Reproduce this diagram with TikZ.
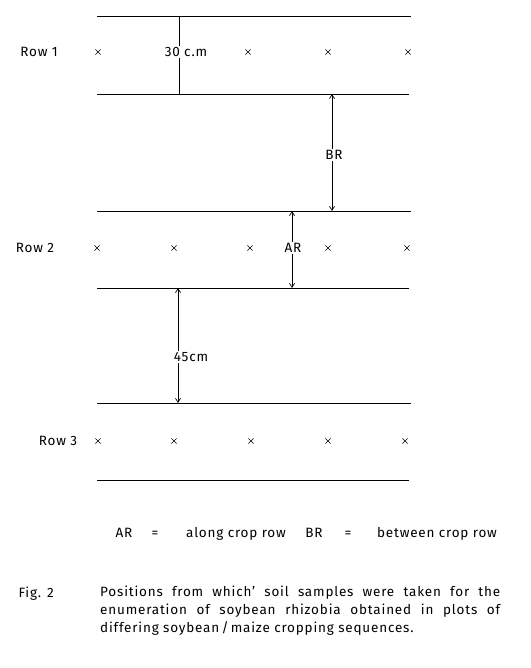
\documentclass[tikz,border=0pt]{standalone}
\usepackage{fontspec}
\setmainfont[LetterSpace=6]{Fira Sans}
\usetikzlibrary{arrows.meta, shapes.misc}

\begin{document}
\begin{tikzpicture}[x=1pt, y=-1pt,
	every node/.style={font=\fontsize{13.5}{16}\selectfont},
	rowline/.style={line width=0.7pt},
	sample/.style={cross out, draw, minimum size=4.5pt, inner sep=0pt, line width=0.6pt},
	gap/.style={fill=white, inner sep=1.5pt},
	dimarrow/.style={line width=0.7pt, -{Straight Barb[length=4pt, width=5pt]}}]

	% page size
	\useasboundingbox (0,0) rectangle (530,668);

	% row edges
	\foreach \t/\b in {16/94, 211/288, 403/480} {
		\draw[rowline] (97,\t) -- (411,\t);
		\draw[rowline] (97,\b) -- (409,\b);
	}

	% row labels
	\node (row1) at (39,52) {Row 1};
	\node (row2) at (35,248) {Row 2};
	\node (row3) at (58,441) {Row 3};

	% sampling points
	\foreach \x [count=\i] in {98,248,328,408}
		\node[sample] (s1\i) at (\x,52) {};
	\foreach \x [count=\i] in {97,174,250,328,407}
		\node[sample] (s2\i) at (\x,248) {};
	\foreach \x [count=\i] in {98,174,251,328,405}
		\node[sample] (s3\i) at (\x,441) {};

	% row width 30 cm
	\node[gap] (w30) at (186,52) {30 c.m};
	\coordinate (w30t) at (179,16);
	\coordinate (w30b) at (179,94);
	\draw[rowline] (w30t) -- (w30t |- w30.north);
	\draw[rowline] (w30b) -- (w30b |- w30.south);

	% between crop row
	\node[gap] (br) at (334,155) {BR};
	\coordinate (brt) at (332,94);
	\coordinate (brb) at (332,211);
	\draw[dimarrow] (brt |- br.north) -- (brt);
	\draw[dimarrow] (brb |- br.south) -- (brb);

	% along crop row
	\node[gap] (ar) at (293,248) {AR};
	\coordinate (art) at (292,211);
	\coordinate (arb) at (292,288);
	\draw[dimarrow] (art |- ar.north) -- (art);
	\draw[dimarrow] (arb |- ar.south) -- (arb);

	% gap 45 cm
	\node[gap] (g45) at (191,357) {45cm};
	\coordinate (g45t) at (178,288);
	\coordinate (g45b) at (178,403);
	\draw[dimarrow] (g45t |- g45.north) -- (g45t);
	\draw[dimarrow] (g45b |- g45.south) -- (g45b);

	% key
	\node[anchor=base] (k1) at (124,537) {AR};
	\node[anchor=base] (k2) at (155,537) {=};
	\node[anchor=base] (k3) at (236,537) {along crop row};
	\node[anchor=base] (k4) at (314,537) {BR};
	\node[anchor=base] (k5) at (348,537) {=};
	\node[anchor=base] (k6) at (437,537) {between crop row};

	% caption
	\node[anchor=base west] (fig) at (15,597) {Fig. 2};
	\node[anchor=north west, inner sep=0pt, text width=400pt, align=justify,
		font=\fontsize{13.5}{18}\selectfont] (cap) at (100,586)
		{Positions from which' soil samples were taken for the\linebreak
		enumeration of soybean rhizobia obtained in plots of\linebreak
		differing soybean\,/\,maize cropping sequences.};
\end{tikzpicture}
\end{document}
